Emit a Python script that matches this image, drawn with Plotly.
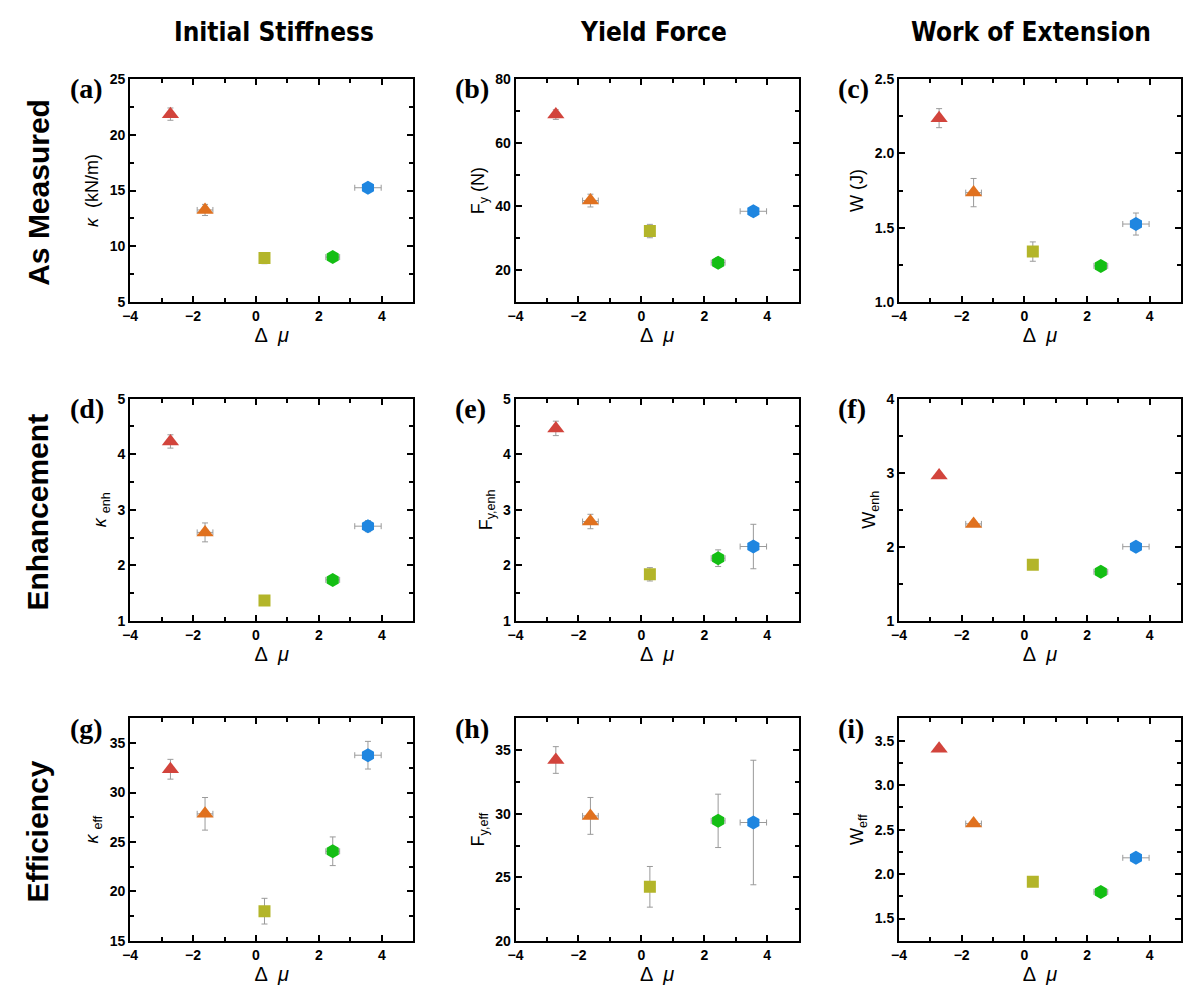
import plotly.graph_objects as go
from plotly.subplots import make_subplots

# ---- data ----
delta_mu = [-2.72, -1.62, 0.27, 2.44, 3.56]
delta_mu_err = [0.05, 0.25, 0.05, 0.22, 0.42]

kappa = [21.84, 13.26, 8.95, 9.04, 15.25]
kappa_err = [0.55, 0.5, 0.5, 0.2, 0.3]
fy = [68.8, 41.85, 32.3, 22.4, 38.5]
fy_err = [1.5, 2.0, 2.1, 1.5, 1.5]
work = [2.236, 1.736, 1.34, 1.244, 1.525]
work_err = [0.064, 0.095, 0.065, 0.02, 0.074]

kappa_enh = [4.23, 2.594, 1.37, 1.74, 2.706]
kappa_enh_err = [0.12, 0.17, 0.06, 0.05, 0.1]
fy_enh = [4.465, 2.79, 1.84, 2.13, 2.34]
fy_enh_err = [0.13, 0.13, 0.12, 0.15, 0.4]
work_enh = [2.962, 2.31, 1.76, 1.664, 2.003]
work_enh_err = [0.03, 0.03, 0.04, 0.03, 0.04]

kappa_eff = [32.36, 27.85, 18.0, 24.06, 33.78]
kappa_eff_err = [1.0, 1.65, 1.3, 1.45, 1.4]
fy_eff = [34.23, 29.83, 24.25, 29.44, 29.31]
fy_eff_err = [1.05, 1.45, 1.6, 2.1, 4.9]
work_eff = [3.408, 2.568, 1.915, 1.80, 2.183]
work_eff_err = [0.02, 0.02, 0.03, 0.02, 0.03]

point_colors = ["#D2443C", "#E0711F", "#B3B52A", "#14BE14", "#1F86E0"]
point_symbols = ["triangle-up", "triangle-up", "square", "hexagon", "hexagon"]
point_sizes = [15, 15, 12, 14, 14]

col_titles = ["Initial Stiffness", "Yield Force", "Work of Extension"]
row_titles = ["As Measured", "Enhancement", "Efficiency"]
panel_labels = ["(a)", "(b)", "(c)", "(d)", "(e)", "(f)", "(g)", "(h)", "(i)"]

# (values, errors, y title, y range, tick0, dtick, tick format)
panels = [
    (kappa, kappa_err, "<i>κ</i>  (kN/m)", [5, 25], 5, 5, ""),
    (fy, fy_err, "F<sub>y</sub> (N)", [10, 80], 0, 20, ""),
    (work, work_err, "W (J)", [1.0, 2.5], 1.0, 0.5, ".1f"),
    (kappa_enh, kappa_enh_err, "<i>κ</i> <sub>enh</sub>", [1, 5], 1, 1, ""),
    (fy_enh, fy_enh_err, "F<sub>y,enh</sub>", [1, 5], 1, 1, ""),
    (work_enh, work_enh_err, "W<sub>enh</sub>", [1, 4], 1, 1, ""),
    (kappa_eff, kappa_eff_err, "<i>κ</i> <sub>eff</sub>", [15, 37.5], 15, 5, ""),
    (fy_eff, fy_eff_err, "F<sub>y,eff</sub>", [20, 37.5], 20, 5, ""),
    (work_eff, work_eff_err, "W<sub>eff</sub>", [1.25, 3.75], 1.5, 0.5, ".1f"),
]

W, H = 1192, 999
x_px = [(123, 408), (511, 796), (897, 1181)]
y_px = [(72, 299), (397, 623), (722, 948)]

fig = make_subplots(rows=3, cols=3)

tick_font = dict(family="Liberation Sans", size=14, color="black")
title_font = dict(family="Liberation Sans", size=18, color="black")

for i, (vals, errs, ytitle, yrange, yt0, ydt, yfmt) in enumerate(panels):
    r, c = i // 3, i % 3
    for j in range(len(delta_mu)):
        fig.add_trace(go.Scatter(
            x=[delta_mu[j]], y=[vals[j]], mode="markers",
            marker=dict(symbol=point_symbols[j], color=point_colors[j], size=point_sizes[j], line=dict(width=0)),
            error_x=dict(type="data", array=[delta_mu_err[j]], color="#9a9a9a", thickness=1, width=3),
            error_y=dict(type="data", array=[errs[j]], color="#9a9a9a", thickness=1, width=3),
            showlegend=False,
        ), row=r + 1, col=c + 1)
    x0, x1 = x_px[c]
    y0, y1 = y_px[r]
    fig.update_xaxes(
        domain=[x0 / W, x1 / W], range=[-4, 5], tick0=-4, dtick=2,
        ticks="inside", ticklen=6, tickwidth=1.5, tickcolor="black",
        minor=dict(ticks="inside", ticklen=4, tickwidth=1.5, tickcolor="black", dtick=1, tick0=-4),
        showline=True, linecolor="black", linewidth=2, mirror="allticks",
        showgrid=False, zeroline=False, tickfont=tick_font,
        tickprefix="<b>", ticksuffix="</b>",
        title=dict(text="Δ  <i>μ</i>", font=dict(family="Liberation Sans", size=20, color="black"), standoff=4),
        row=r + 1, col=c + 1,
    )
    fig.update_yaxes(
        domain=[1 - y1 / H, 1 - y0 / H], range=yrange, tick0=yt0, dtick=ydt, tickformat=yfmt,
        ticks="inside", ticklen=6, tickwidth=1.5, tickcolor="black",
        minor=dict(ticks="inside", ticklen=4, tickwidth=1.5, tickcolor="black", dtick=ydt / 2, tick0=yt0),
        showline=True, linecolor="black", linewidth=2, mirror="allticks",
        showgrid=False, zeroline=False, tickfont=tick_font,
        tickprefix="<b>", ticksuffix="</b>",
        title=dict(text=ytitle, font=title_font, standoff=6),
        row=r + 1, col=c + 1,
    )
    # panel label
    fig.add_annotation(
        x=(x0 - 63) / W, y=1 - (y0 - 8) / H, xref="paper", yref="paper",
        xanchor="left", yanchor="top", showarrow=False, text="<b>" + panel_labels[i] + "</b>",
        font=dict(family="Liberation Serif", size=28, color="black"),
    )

for c, t in enumerate(col_titles):
    fig.add_annotation(
        x=[268, 650, 1030][c] / W, y=1 - 24 / H, xref="paper", yref="paper",
        xanchor="center", yanchor="middle", showarrow=False, text="<b>" + t + "</b>",
        font=dict(family="DejaVu Sans Condensed, Liberation Sans", size=26, color="black"),
    )
for r, t in enumerate(row_titles):
    fig.add_annotation(
        x=30 / W, y=1 - [187, 512, 837][r] / H, xref="paper", yref="paper",
        xanchor="center", yanchor="middle", showarrow=False, textangle=-90, text="<b>" + t + "</b>",
        font=dict(family="Liberation Sans", size=30, color="black"),
    )

fig.update_layout(
    width=W, height=H, margin=dict(l=0, r=0, t=0, b=0),
    plot_bgcolor="white", paper_bgcolor="white",
)

fig.write_html("out.html")
